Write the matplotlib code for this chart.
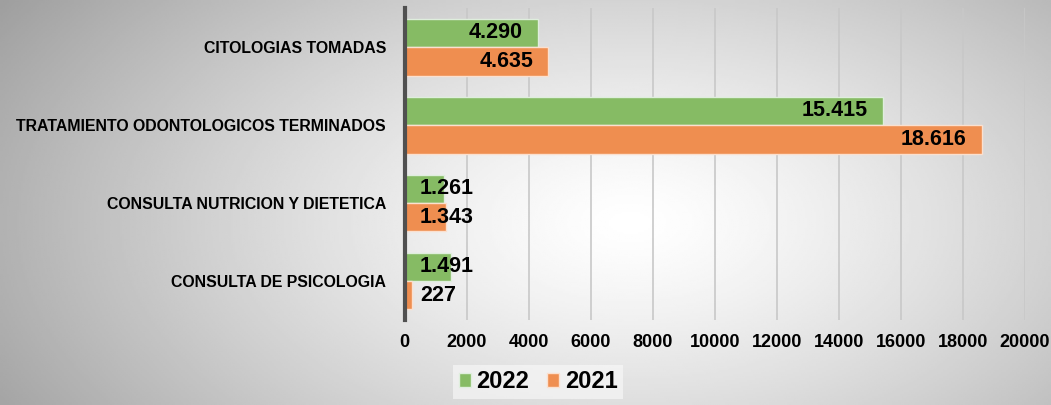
import numpy as np
import matplotlib.pyplot as plt

# datos
categorias = ['CITOLOGIAS TOMADAS', 'TRATAMIENTO ODONTOLOGICOS TERMINADOS',
              'CONSULTA NUTRICION Y DIETETICA', 'CONSULTA DE PSICOLOGIA']
valores_2022 = [4290, 15415, 1261, 1491]
valores_2021 = [4635, 18616, 1343, 227]
etiquetas_2022 = ['4.290', '15.415', '1.261', '1.491']
etiquetas_2021 = ['4.635', '18.616', '1.343', '227']
ticks_x = [0, 2000, 4000, 6000, 8000, 10000, 12000, 14000, 16000, 18000, 20000]

verde = '#86BB64'
naranja = '#EF8E50'

plt.rcParams['font.family'] = 'Liberation Sans'

fig = plt.figure(figsize=(10.51, 4.05), dpi=100)

# fondo con degradado radial
bg = fig.add_axes([0, 0, 1, 1])
yy, xx = np.mgrid[0:1:200j, 0:1:520j]
d = np.sqrt(((xx - 0.6) * 1.3) ** 2 + ((yy - 0.55) * 0.9) ** 2)
g = np.clip(1.0 - 0.42 * d ** 1.3, 0, 1)
bg.imshow(g, cmap='gray', vmin=0, vmax=1, aspect='auto', extent=[0, 1, 0, 1])
bg.axis('off')

ax = fig.add_axes([0.385, 0.21, 0.59, 0.77])
ax.patch.set_alpha(0)

y = np.arange(len(categorias))
h = 0.365
ax.barh(y - h / 2, valores_2022, height=h, color=verde, edgecolor='#dfeedd',
        linewidth=1, label='2022', zorder=3)
ax.barh(y + h / 2, valores_2021, height=h, color=naranja, edgecolor='#fbe0cf',
        linewidth=1, label='2021', zorder=3)

# etiquetas de valor
for vals, labs, off in [(valores_2022, etiquetas_2022, -h / 2), (valores_2021, etiquetas_2021, h / 2)]:
    for i, (v, t) in enumerate(zip(vals, labs)):
        if v > 3000:
            ax.annotate(t, (v, i + off), xytext=(-11, 0), textcoords='offset points',
                        ha='right', va='center', fontsize=15.5, fontweight='bold', zorder=4)
        else:
            ax.annotate(t, (0, i + off), xytext=(11, 0), textcoords='offset points',
                        ha='left', va='center', fontsize=15.5, fontweight='bold', zorder=4)

ax.set_xlim(0, 20000)
ax.set_ylim(3.5, -0.5)
ax.set_xticks(ticks_x)
ax.set_xticklabels([str(t) for t in ticks_x], fontsize=13, fontweight='bold')
ax.set_yticks(y)
ax.set_yticklabels(categorias, fontsize=11.4, fontweight='bold')
ax.tick_params(axis='y', length=0, pad=13.5)
ax.tick_params(axis='x', length=0, pad=10)
ax.grid(axis='x', color='#c8c8c8', linewidth=1.2, zorder=0)
for s in ['top', 'right', 'bottom']:
    ax.spines[s].set_visible(False)
ax.spines['left'].set_color('#505050')
ax.spines['left'].set_linewidth(3)
ax.spines['left'].set_zorder(5)

leg = fig.legend(loc='center', bbox_to_anchor=(0.512, 0.057), ncol=2, frameon=True,
                 prop={'weight': 'bold', 'size': 17}, handlelength=0.5, handleheight=0.5,
                 handletextpad=0.25, columnspacing=0.75, borderpad=0.25)
leg.get_frame().set_facecolor('#fafafa')
leg.get_frame().set_edgecolor('none')
leg.get_frame().set_alpha(0.6)
leg.get_frame().set_boxstyle('square', pad=0)

fig.savefig('out.png', dpi=100)
plt.close()
